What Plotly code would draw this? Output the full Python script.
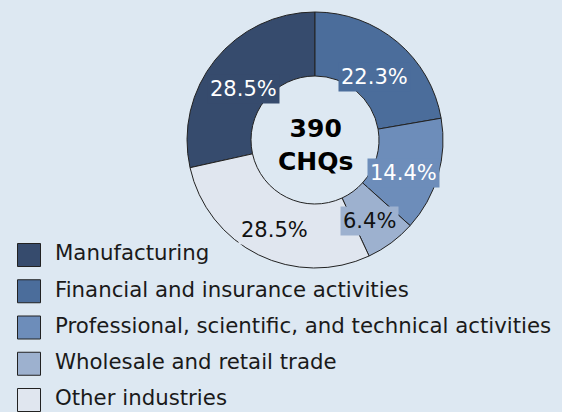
import math
import plotly.graph_objects as go

# --- DATA ---
categories = [
    "Manufacturing",
    "Financial and insurance activities",
    "Professional, scientific, and technical activities",
    "Wholesale and retail trade",
    "Other industries",
]
shares = [28.5, 22.3, 14.4, 6.4, 28.5]
total_chqs = 390

colors = ["#364b6d", "#4b6d9b", "#6d8dba", "#9db1cf", "#e0e6ef"]
label_colors = ["white", "white", "white", "#111111", "#111111"]

# --- GEOMETRY (pixels) ---
W, H = 562, 412
cx, cy, R = 315, 140, 128
label_r = 0.72 * R
font = "DejaVu Sans, Verdana, sans-serif"
bg = "#dde8f2"

# legend block: swatch column, text column, first / last row centres
sw_x, txt_x = 29, 55
row0, row_last = 255, 400
leg_top = 230

total = sum(shares)
rotation = -shares[0] / total * 360  # first slice ends at 12 o'clock

fig = go.Figure()
fig.add_trace(
    go.Pie(
        labels=categories,
        values=shares,
        sort=False,
        direction="clockwise",
        rotation=rotation,
        hole=0.5,
        textinfo="none",
        showlegend=False,
        hoverinfo="label+percent",
        marker=dict(colors=colors, line=dict(color="#222222", width=1)),
        domain=dict(x=[(cx - R) / W, (cx + R) / W], y=[1 - (cy + R) / H, 1 - (cy - R) / H]),
    )
)

# legend drawn as swatches + labels on a hidden category axis
fig.add_trace(
    go.Scatter(
        x=[0] * len(categories), y=categories,
        mode="markers",
        marker=dict(symbol="square", size=23, color=colors, line=dict(color="#222222", width=1)),
        hoverinfo="skip", showlegend=False,
    )
)
fig.add_trace(
    go.Scatter(
        x=[1] * len(categories), y=categories,
        mode="text",
        text=categories,
        textposition="middle right",
        textfont=dict(size=21.3, color="#1a1a1a", family=font),
        hoverinfo="skip", showlegend=False,
    )
)

# centre text
fig.add_annotation(
    x=cx / W, y=1 - (cy + 5) / H,
    xref="paper", yref="paper",
    text=f"<b>{total_chqs}<br>CHQs</b>",
    showarrow=False,
    xanchor="center", yanchor="middle",
    font=dict(size=25, color="black", family=font),
)

# percentage labels with slice-coloured boxes
cum = 0.0
for v, col, tcol in zip(shares, colors, label_colors):
    theta = math.radians(rotation + (cum + v / 2) / total * 360)
    cum += v
    fig.add_annotation(
        x=(cx + label_r * math.sin(theta)) / W,
        y=1 - (cy + 7 - label_r * math.cos(theta)) / H,
        xref="paper", yref="paper",
        text=f"{v:.1f}%",
        showarrow=False,
        xanchor="center", yanchor="middle",
        bgcolor=col,
        borderpad=2,
        font=dict(size=21, color=tcol, family=font),
    )

step = (row_last - row0) / (len(categories) - 1)
fig.update_layout(
    width=W,
    height=H,
    margin=dict(l=0, r=0, t=0, b=0),
    paper_bgcolor=bg,
    plot_bgcolor="rgba(0,0,0,0)",
    showlegend=False,
    xaxis=dict(
        visible=False, domain=[0, 1],
        range=[-sw_x / (txt_x - sw_x), (W - sw_x) / (txt_x - sw_x)],
    ),
    yaxis=dict(
        visible=False, type="category", categoryarray=categories,
        domain=[0, 1 - leg_top / H],
        range=[(H - row0) / step, -(row0 - leg_top) / step],
    ),
)

fig.write_html(
    "out.html",
    config={"displayModeBar": False},
    post_script="document.body.style.margin='0';",
)
